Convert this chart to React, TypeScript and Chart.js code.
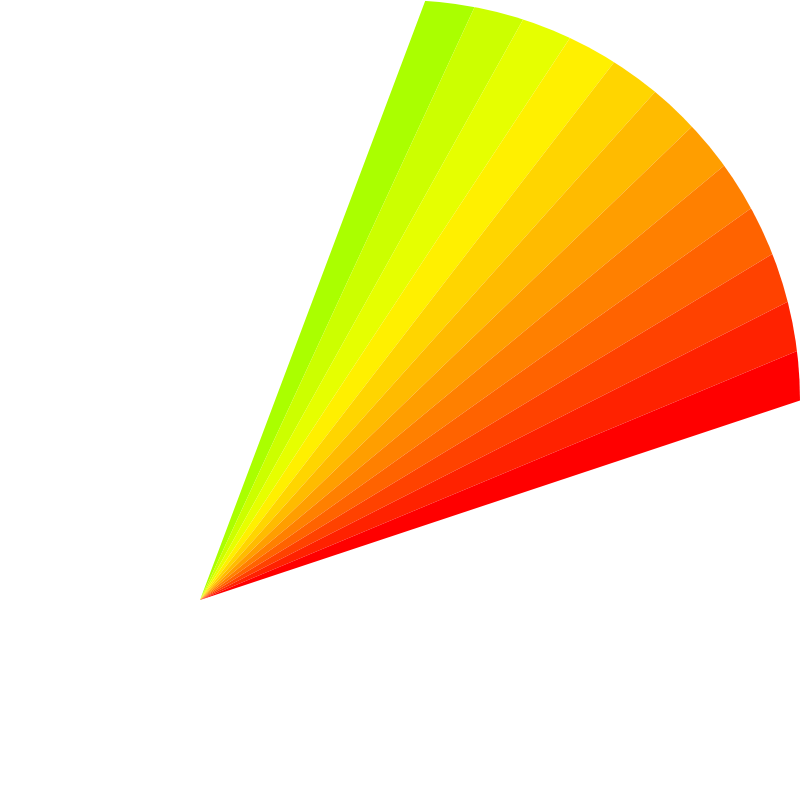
import React, { useEffect, useRef } from "react";
import { Chart, registerables } from "chart.js";

Chart.register(...registerables);

const categories = ["S1", "S2", "S3", "S4", "S5", "S6", "S7", "S8", "S9", "S10", "S11", "S12"];
const values = [1, 1, 1, 1, 1, 1, 1, 1, 1, 1, 1, 1];
const sliceColors = [
  "#aaff00",
  "#ccff00",
  "#e6ff00",
  "#fff000",
  "#ffd500",
  "#ffbb00",
  "#ff9e00",
  "#ff8000",
  "#ff6300",
  "#ff4200",
  "#ff2200",
  "#ff0000",
];

const ROTATION = 20.6; // degrees from top, clockwise
const CIRCUMFERENCE = 51; // degrees
const SIZE = 800;
const RADIUS = 800;
const APEX_X = 200;
const APEX_Y = 600;

function computePadding() {
  const s = ((ROTATION - 90) * Math.PI) / 180;
  const e = s + (CIRCUMFERENCE * Math.PI) / 180;
  const sx = Math.cos(s), sy = Math.sin(s), ex = Math.cos(e), ey = Math.sin(e);
  const maxX = Math.max(sx, ex, 0);
  const minX = Math.min(sx, ex, 0);
  const maxY = Math.max(sy, ey, 0);
  const minY = Math.min(sy, ey, 0);
  const offX = (-(maxX + minX) / 2) * RADIUS;
  const offY = (-(maxY + minY) / 2) * RADIUS;
  const cx = APEX_X - offX;
  const cy = APEX_Y - offY;
  // chart area centre = cx, cy
  const lr = 2 * cx - SIZE; // left - right
  const tb = 2 * cy - SIZE; // top - bottom
  return {
    left: Math.max(lr, 0),
    right: Math.max(-lr, 0),
    top: Math.max(tb, 0),
    bottom: Math.max(-tb, 0),
  };
}

export default function App() {
  const ref = useRef<HTMLCanvasElement | null>(null);
  useEffect(() => {
    if (!ref.current) return;
    const chart = new Chart(ref.current, {
      type: "pie",
      data: {
        labels: categories,
        datasets: [
          {
            data: values,
            backgroundColor: sliceColors,
            borderWidth: 0,
            clip: false,
          } as any,
        ],
      },
      options: {
        animation: false,
        responsive: true,
        maintainAspectRatio: false,
        rotation: ROTATION,
        circumference: CIRCUMFERENCE,
        radius: RADIUS,
        layout: { padding: computePadding() },
        plugins: { legend: { display: false }, tooltip: { enabled: false } },
      } as any,
    });
    return () => chart.destroy();
  }, []);
  return (
    <div
      style={{
        position: "fixed",
        left: 0,
        top: 0,
        width: SIZE,
        height: SIZE,
        borderRadius: "50%",
        overflow: "hidden",
        background: "#fff",
      }}
    >
      <canvas ref={ref} />
    </div>
  );
}
